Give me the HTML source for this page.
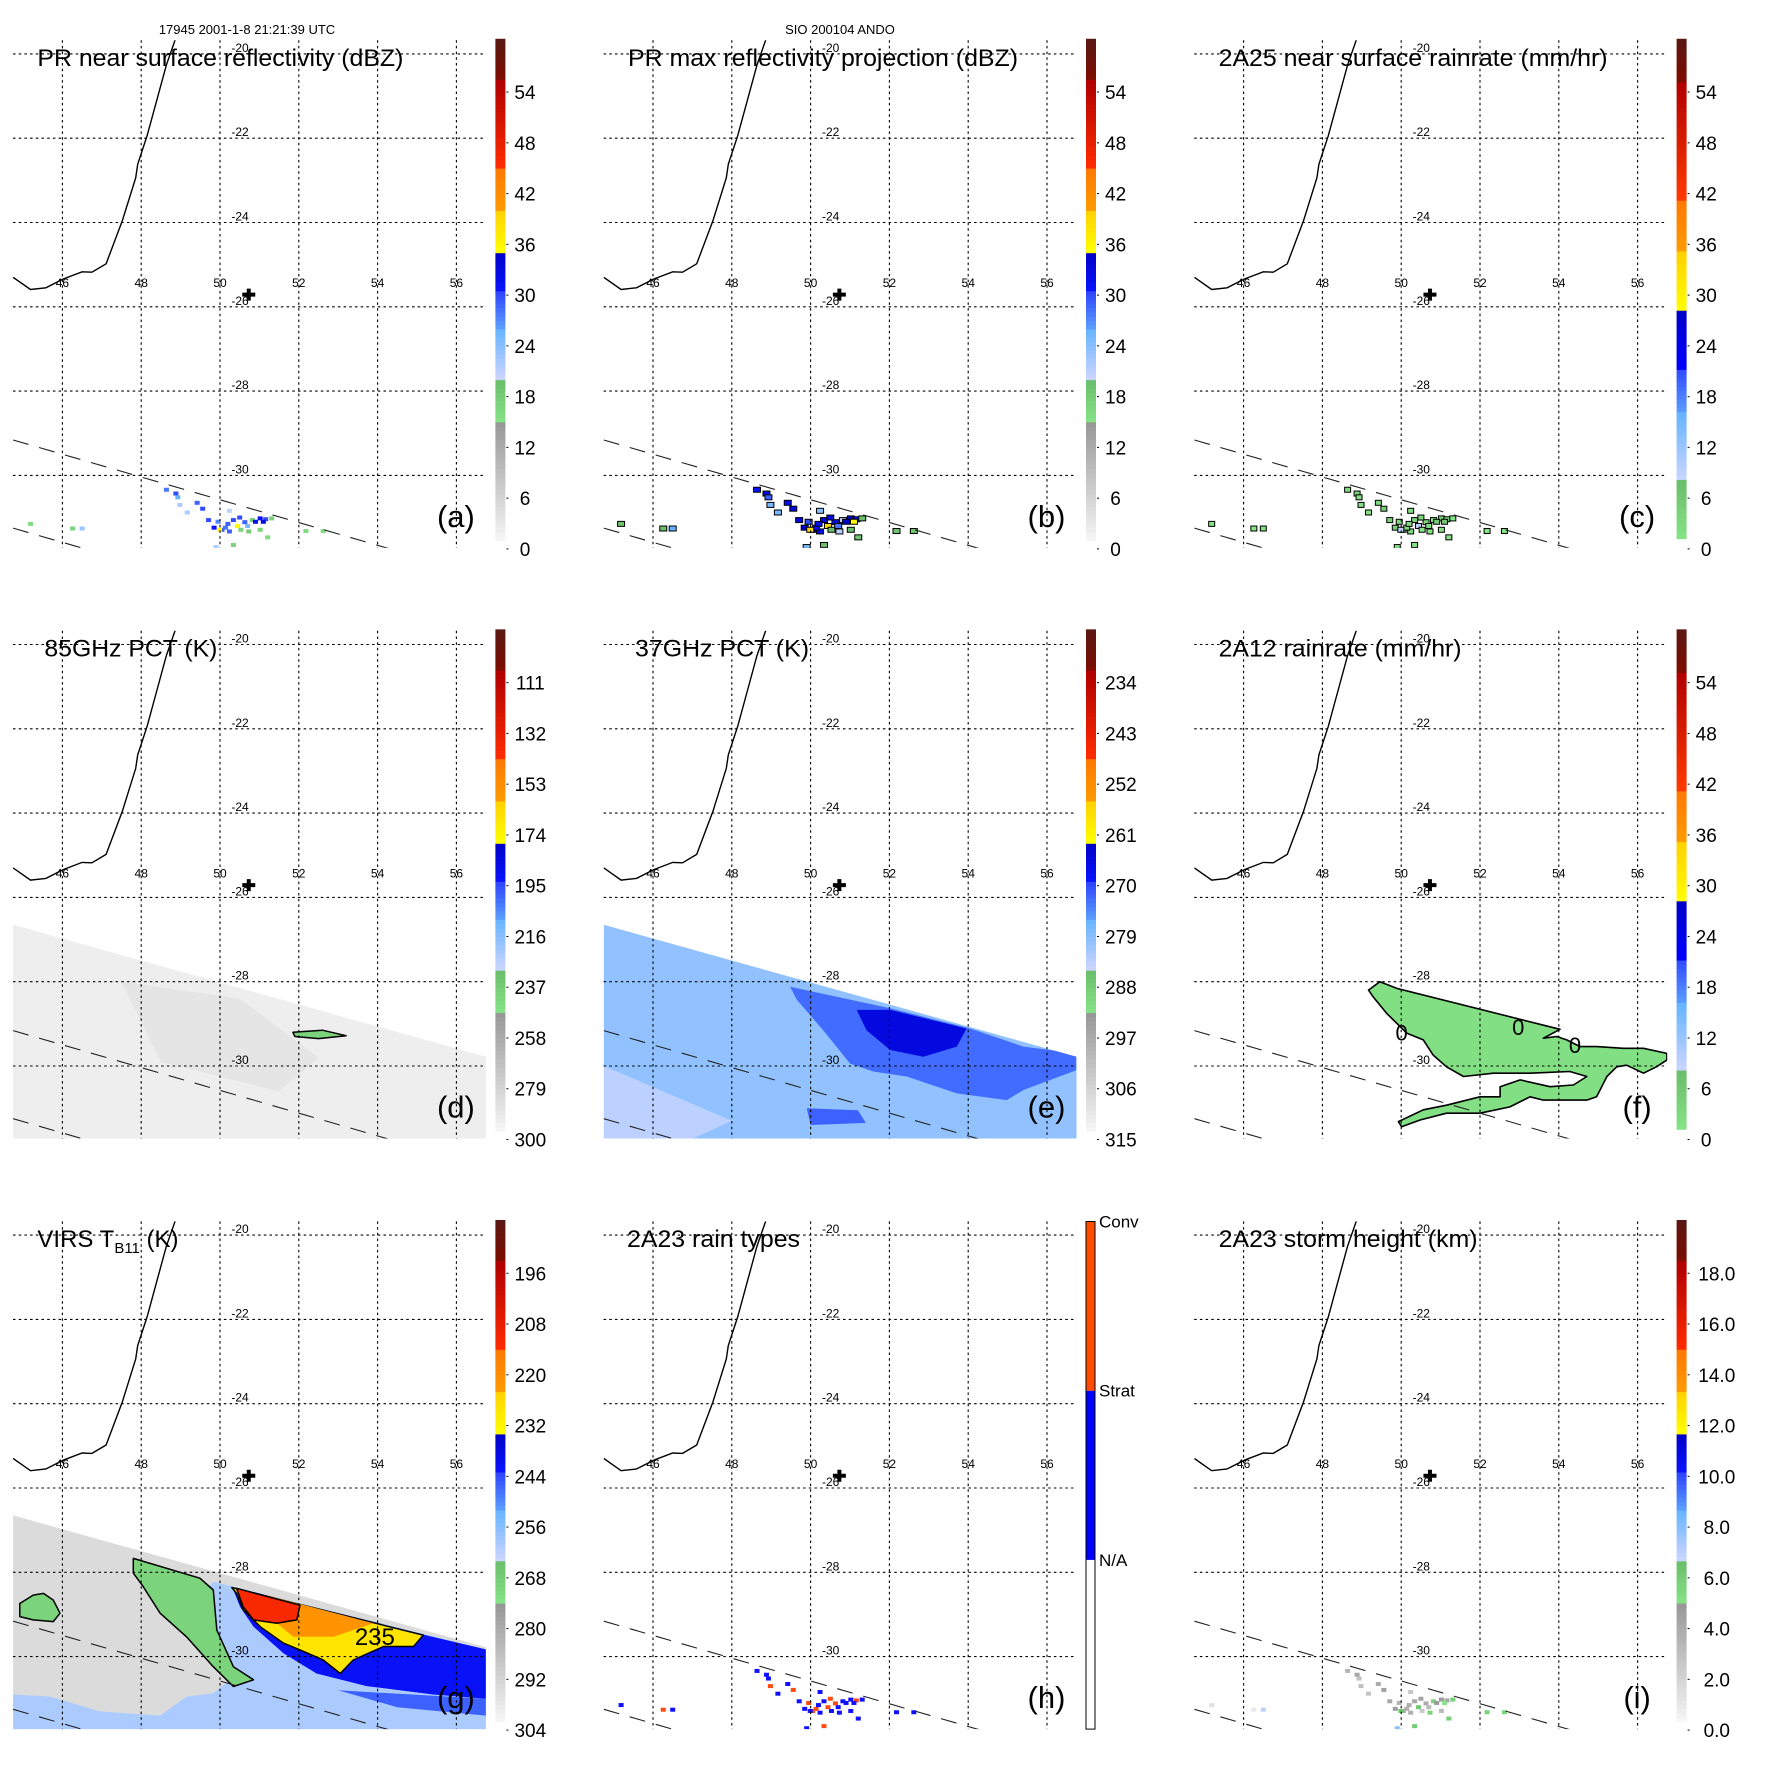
<!DOCTYPE html>
<html><head><meta charset="utf-8"><style>
html,body{margin:0;padding:0;background:#fff}
svg{display:block;font-family:"Liberation Sans",Arial,sans-serif}
</style></head><body>
<svg id="chart" width="1771" height="1771" viewBox="0 0 1771 1771" xmlns="http://www.w3.org/2000/svg">
<rect x="0" y="0" width="1771" height="1771" fill="#fff"/>
<text x="247" y="34" font-size="13" text-anchor="middle">17945 2001-1-8 21:21:39 UTC</text>
<text x="840" y="34" font-size="13" text-anchor="middle">SIO 200104 ANDO</text>
</svg>
<script>
// ---------- data ----------
const gridLons=[46,48,50,52,54,56];
const gridLats=[-20,-22,-24,-26,-28,-30];
const coastLon=[44.75,45.19,45.58,46.02,46.50,46.75,47.11,47.52,47.86,47.91,48.15,48.40,48.64,48.86];
const coastLat=[-25.30,-25.59,-25.55,-25.34,-25.17,-25.18,-24.98,-23.96,-22.94,-22.62,-21.94,-21.08,-20.26,-19.67];
const siteLon=50.73, siteLat=-25.71;
const scanLineLon=[44.75,56.75];
const scanLine1Lat=[-29.16,-32.40];
const scanLine2Lat=[-31.25,-34.49];
const swathLon=[44.75,56.75,56.75,44.75];
const swathLat=[-26.65,-29.78,-34,-34];
// rain cells (PR)
const rainLon=[48.64,48.88,48.93,49.42,49.56,49.71,49.85,50.05,50.24,50.34,50.44,50.63,50.82,51.02,51.16,51.31,50.14,49.99,50.53,50.73,51.02,51.21,50.34,49.9,45.19,46.26,46.5,52.18,52.62,49.17,48.98,50.24,50.5,50.9,50.2,49.95,51.1,50.7];
const rainLat=[-30.34,-30.43,-30.52,-30.65,-30.79,-31.06,-31.24,-31.29,-31.33,-31.06,-31.2,-31.11,-31.06,-31.02,-31.04,-31.02,-31.24,-31.29,-31.29,-31.33,-31.29,-31.47,-31.65,-31.7,-31.15,-31.26,-31.26,-31.32,-31.32,-30.88,-30.7,-30.84,-31.0,-31.1,-31.15,-31.1,-31.1,-31.2];
const rainDbz=[28,30,26,29,30,30,31,30,29,30,36,29,18,31,30,17,28,36,17,18,17,16,17,22,16,17,23,16,16,22,22,21,30,32,29,27,33,25];
const rainRate=[3,4,2,3,5,4,5,4,3,4,9,3,1,5,4,1,3,9,1,1,1,1,1,2,1,1,2,1,1,2,2,2,4,6,3,3,6,2];
const rainType=[1,1,1,1,2,1,1,2,1,1,2,2,1,1,2,1,2,1,1,1,1,1,2,1,1,2,1,1,1,1,2,1,2,1,1,2,1,1];
const rainHeight=[3.5,4.2,3.0,4.0,4.5,4.1,4.6,4.4,3.8,4.2,6.2,3.9,5.6,4.7,4.3,5.8,3.7,6.1,2.5,5.7,3.2,5.9,6.0,8.0,1.5,1.0,7.0,5.8,5.6,2.8,3.0,2.6,4.4,4.8,3.9,3.6,5.0,3.3];
// 2A12 rain region (f)
const fRainLon=[49.17,49.46,49.89,54.03,53.61,53.95,54.2,54.54,54.96,55.64,56.15,56.74,56.74,56.48,56.15,55.72,55.47,55.22,54.96,54.71,53.61,53.27,52.76,52.0,51.15,50.48,50.01,49.93,50.56,51.15,52.0,52.51,52.51,53.02,53.78,54.37,54.71,54.28,53.27,52.34,51.58,51.15,50.81,50.56,50.14,49.63,49.29];
const fRainLat=[-28.2,-28.0,-28.16,-29.13,-29.34,-29.3,-29.38,-29.54,-29.54,-29.58,-29.58,-29.7,-29.86,-30.02,-30.17,-29.98,-30.02,-30.25,-30.73,-30.81,-30.81,-30.73,-30.97,-31.12,-31.12,-31.28,-31.44,-31.32,-31.04,-30.93,-30.73,-30.73,-30.49,-30.33,-30.49,-30.45,-30.25,-30.13,-30.17,-30.17,-30.25,-30.02,-29.74,-29.38,-29.22,-28.75,-28.36];
const fRainValue=2;
const fZeroLon=[50.01,52.97,54.41];
const fZeroLat=[-29.2,-29.07,-29.5];
// 85 GHz (d) regions
const dBaseValue=2.3;
const dRegionValues=[3.6,17];
const dRegionLons=[[47.5,50.5,52.5,51.5,48.5],[51.85,52.6,53.2,52.5,51.9]];
const dRegionLats=[[-28.0,-28.4,-29.8,-30.6,-29.9],[-29.2,-29.15,-29.28,-29.35,-29.3]];
// 37 GHz (e) regions
const eBaseValue=23.5;
const eRegionValues=[21,28.5,33,29];
const eRegionLons=[[44.75,48,47,44.75],[49.48,52.02,54.05,55.4,56.74,56.74,55.4,54.98,53.71,52.44,51.59,51.0,50.32,49.65],[51.17,52.02,53.96,53.71,52.86,52.02,51.42],[49.9,51.2,51.4,50.0]];
const eRegionLats=[[-30.0,-31.3,-31.73,-31.73],[-28.12,-28.63,-29.11,-29.54,-29.7,-30.1,-30.57,-30.81,-30.65,-30.25,-30.13,-29.94,-29.15,-28.43],[-28.67,-28.67,-29.11,-29.54,-29.78,-29.62,-29.15],[-31.0,-31.05,-31.35,-31.4]];
// VIRS (g) regions
const gBaseValue=5;
const gRegionValues=[22,17,17,31,29,38,41,46];
const gRegionLons=[
 [49.83,56.75,56.75,44.75,44.75,45.69,46.95,48.48,49.15,49.83,50.34,49.92,49.66],
 [47.8,49.49,49.83,49.92,50.34,50.85,50.34,49.83,49.15,48.48,48.05,47.8],
 [44.92,45.26,45.52,45.77,45.94,45.77,45.26,44.92],
 [50.34,56.75,56.75,55.41,53.72,52.45,51.61,50.85,50.51],
 [53.0,56.75,56.75,54.5],
 [50.3,55.16,54.91,54.15,53.38,53.05,52.62,52.03,51.61,51.02,50.59,50.42],
 [51.18,53.89,52.88,51.86,51.35,50.85],
 [50.42,52.03,51.95,51.44,50.85,50.59]];
const gRegionLats=[
 [-28.22,-29.83,-31.73,-31.73,-30.9,-30.95,-31.3,-31.4,-30.95,-30.87,-30.48,-29.37,-28.42],
 [-27.67,-28.14,-28.42,-29.37,-30.24,-30.55,-30.71,-30.24,-29.53,-28.97,-28.34,-28.02],
 [-28.74,-28.54,-28.5,-28.66,-28.97,-29.17,-29.13,-29.05],
 [-28.42,-29.83,-31.0,-30.9,-30.7,-30.4,-29.92,-29.29,-28.82],
 [-30.8,-31.0,-31.4,-31.2],
 [-28.36,-29.49,-29.76,-29.76,-30.08,-30.4,-30.08,-29.84,-29.68,-29.29,-28.89,-28.5],
 [-28.54,-29.21,-29.53,-29.53,-29.13,-28.82],
 [-28.38,-28.78,-29.13,-29.21,-29.13,-28.82]];
const gOutlined=[false,true,true,false,false,true,false,true];
const gContourLabelLon=53.93, gContourLabelLat=-29.72;
// colour-bar tick labels
const tickValues=[0,6,12,18,24,30,36,42,48,54];
const labelsA=['0','6','12','18','24','30','36','42','48','54'];
const labelsD=['300','279','258','237','216','195','174','153','132','111'];
const labelsE=['315','306','297','288','279','270','261','252','243','234'];
const labelsG=['304','292','280','268','256','244','232','220','208','196'];
const labelsI=['0.0','2.0','4.0','6.0','8.0','10.0','12.0','14.0','16.0','18.0'];
const typeLabels=['N/A','Strat','Conv'];

// ---------- colour schemes ----------
const schemeA=[[1,15,'#f7f7f7','#969696'],[15,20.1,'#86e386','#6abd6a'],[20.1,26.2,'#ccd6ff','#62b2ff'],[26.2,30.3,'#5a9cff','#2e46ff'],[30.3,35.1,'#0a14ff','#0000c8'],[35.1,40.1,'#ffff00','#ffd000'],[40.1,45.1,'#ff9a00','#ff7800'],[45.1,55.3,'#ff2c00','#b00000'],[55.3,60.3,'#7e0c00','#5a1812']];
const schemeC=[[1.2,8.1,'#86e386','#6abd6a'],[8.1,16.3,'#ccd6ff','#62b2ff'],[16.3,21.4,'#5a9cff','#2e46ff'],[21.4,28.1,'#0000ff','#0000c8'],[28.1,35.2,'#ffff00','#ffd000'],[35.2,41.3,'#ff9a00','#ff7800'],[41.3,55.2,'#ff3a00','#b00000'],[55.2,60.3,'#7e0c00','#5a1812']];
function hex2rgb(h){return [parseInt(h.substr(1,2),16),parseInt(h.substr(3,2),16),parseInt(h.substr(5,2),16)];}
function colorOf(s,v){
  let seg=s[0];
  for(const g of s){ if(v>=g[0]) seg=g; }
  let t=(v-seg[0])/(seg[1]-seg[0]); t=Math.max(0,Math.min(1,t));
  const a=hex2rgb(seg[2]), b=hex2rgb(seg[3]);
  return 'rgb('+a.map((x,i)=>Math.round(x+(b[i]-x)*t)).join(',')+')';
}

// ---------- helpers ----------
const NS='http://www.w3.org/2000/svg';
const svg=document.getElementById('chart');
function mk(tag,attrs,parent){const e=document.createElementNS(NS,tag);for(const k in attrs)e.setAttribute(k,attrs[k]);(parent||svg).appendChild(e);return e;}
const PITCH=590.6, OX0=62.4, OY0=53.9, DX=39.4, DY=42.15;
const MAP_L=-49.4, MAP_R=423.6, MAP_T=-13.7, MAP_B=494;

const panels=[
 {c:0,r:0,key:'a',title:'PR near surface reflectivity (dBZ)',tw:366,tx:-25,scheme:schemeA,labels:labelsA},
 {c:1,r:0,key:'b',title:'PR max reflectivity projection (dBZ)',tw:390,tx:-25,scheme:schemeA,labels:labelsA},
 {c:2,r:0,key:'c',title:'2A25 near surface rainrate (mm/hr)',tw:389,tx:-25,scheme:schemeC,labels:labelsA},
 {c:0,r:1,key:'d',title:'85GHz PCT (K)',tw:173,tx:-18,scheme:schemeA,labels:labelsD},
 {c:1,r:1,key:'e',title:'37GHz PCT (K)',tw:174,tx:-18,scheme:schemeA,labels:labelsE},
 {c:2,r:1,key:'f',title:'2A12 rainrate (mm/hr)',tw:243,tx:-25,scheme:schemeC,labels:labelsA},
 {c:0,r:2,key:'g',title:'VIRS',tw:0,tx:-25,scheme:schemeA,labels:labelsG},
 {c:1,r:2,key:'h',title:'2A23 rain types',tw:173,tx:-26,scheme:null,labels:null},
 {c:2,r:2,key:'i',title:'2A23 storm height (km)',tw:259,tx:-25,scheme:schemeA,labels:labelsI}
];

panels.forEach(p=>{
  const ox=OX0+p.c*PITCH, oy=OY0+p.r*PITCH;
  const X=lon=>ox+(lon-46)*DX;
  const Y=lat=>oy+(-20-lat)*DY;
  const pts=(lons,lats)=>lons.map((l,i)=>X(l).toFixed(1)+','+Y(lats[i]).toFixed(1)).join(' ');
  const g=mk('g',{});
  
  
  const cp=mk('clipPath',{id:'clip-'+p.key},g);
  mk('rect',{x:ox+MAP_L,y:oy+MAP_T,width:MAP_R-MAP_L,height:MAP_B-MAP_T},cp);
  const map=mk('g',{'clip-path':'url(#clip-'+p.key+')'},g);
  
  

  function swath(base,vals,lons,lats,outl){
    const s=mk('polygon',{points:pts(swathLon,swathLat),fill:colorOf(p.scheme,base)},map);
    
    
    const sc=mk('g',{},map);
    const cpid='swclip-'+p.key;
    const cp2=mk('clipPath',{id:cpid},g);
    mk('polygon',{points:pts(swathLon,swathLat)},cp2);
    sc.setAttribute('clip-path','url(#'+cpid+')');
    vals.forEach((v,i)=>{
      const r=mk('polygon',{points:pts(lons[i],lats[i]),fill:colorOf(p.scheme,v),stroke:(outl&&outl[i])?'#000':'none','stroke-width':1.5,'stroke-linejoin':'round'},sc);
      
      
    });
  }
  if(p.key==='d') swath(dBaseValue,dRegionValues,dRegionLons,dRegionLats,[false,true]);
  if(p.key==='e') swath(eBaseValue,eRegionValues,eRegionLons,eRegionLats,null);
  if(p.key==='g'){
    swath(gBaseValue,gRegionValues,gRegionLons,gRegionLats,gOutlined);
    const t=mk('text',{x:X(gContourLabelLon),y:Y(gContourLabelLat),'font-size':24,'text-anchor':'middle'},map);
    t.textContent='235';
    
    
  }
  if(p.key==='f'){
    const r=mk('polygon',{points:pts(fRainLon,fRainLat),fill:colorOf(p.scheme,fRainValue),stroke:'#000','stroke-width':1.6,'stroke-linejoin':'round'},map);
    
    
    fZeroLon.forEach((l,i)=>{
      const t=mk('text',{x:X(l),y:Y(fZeroLat[i])+8,'font-size':22,'text-anchor':'middle'},map);
      t.textContent='0';
      
      
    });
  }
  if('abchi'.includes(p.key)){
    rainLon.forEach((l,i)=>{
      let col, w=5, h=4, outline=false;
      if(p.key==='a') col=colorOf(p.scheme,rainDbz[i]);
      if(p.key==='b'){col=colorOf(p.scheme,rainDbz[i]+3); w=6; h=4; outline=true;}
      if(p.key==='c'){col=colorOf(p.scheme,rainRate[i]); w=5; h=4; outline=true;}
      if(p.key==='h') col=rainType[i]===2?'#ff4a10':'#1010ff';
      if(p.key==='i') col=colorOf(p.scheme,rainHeight[i]*3);
      if(outline){
        const o=mk('rect',{x:X(l)-w/2-1,y:Y(rainLat[i])-h/2-1,width:w+2,height:h+2,fill:'#000'},map);
        
        
      }
      const r=mk('rect',{x:X(l)-w/2,y:Y(rainLat[i])-h/2,width:w,height:h,fill:col},map);
      
      
    });
  }
  gridLons.forEach(l=>{
    const ln=mk('line',{x1:X(l),x2:X(l),y1:oy+MAP_T,y2:oy+MAP_B,stroke:'#000','stroke-width':1.1,'stroke-dasharray':'2.5,3.2'},g);
    
    
    const t=mk('text',{x:X(l),y:oy+233,'font-size':12,'text-anchor':'middle'},g);
    t.textContent=String(l);
    
    
  });
  gridLats.forEach(l=>{
    const ln=mk('line',{x1:ox+MAP_L,x2:ox+MAP_R,y1:Y(l),y2:Y(l),stroke:'#000','stroke-width':1.1,'stroke-dasharray':'2.5,3.2'},g);
    
    
    const t=mk('text',{x:ox+169,y:Y(l)-2,'font-size':12},g);
    t.textContent=String(l);
    
    
  });
  const coast=mk('polyline',{points:pts(coastLon,coastLat),fill:'none',stroke:'#000','stroke-width':1.4},map);
  
  
  [scanLine1Lat,scanLine2Lat].forEach(la=>{
    const d=mk('polyline',{points:pts(scanLineLon,la),fill:'none',stroke:'#222','stroke-width':1.1,'stroke-dasharray':'16,11'},map);
    
    
  });
  const cx=X(siteLon), cy=Y(siteLat);
  const cr=mk('path',{d:`M${cx-6.5},${cy-2}h13v4h-13zM${cx-2},${cy-6}h4v12h-4z`,fill:'#000'},g);
  
  
  const tt=mk('text',{x:ox+p.tx,y:oy+12,'font-size':24},g);
  if(p.key==='g'){
    tt.innerHTML='VIRS T<tspan font-size="15" dy="6">B11</tspan><tspan dy="-6"> (K)</tspan>';
  } else {
    tt.textContent=p.title;
    tt.setAttribute('textLength',p.tw);
    tt.setAttribute('lengthAdjust','spacingAndGlyphs');
  }
  
  
  const lt=mk('text',{x:ox+393.5,y:oy+473,'font-size':31,'text-anchor':'middle'},g);
  lt.textContent='('+p.key+')';
  
  
  const cb=mk('g',{},g);
  
  
  const bx=ox+433, bw=10;
  const VY=v=>oy+495-8.46*v;
  if(p.scheme){
    const lo=p.scheme[0][0], hi=p.scheme[p.scheme.length-1][1];
    for(let v=lo; v<hi-0.01; v+=0.5){
      const v2=Math.min(hi,v+0.5);
      mk('rect',{x:bx,y:VY(v2),width:bw,height:VY(v)-VY(v2)+0.4,fill:colorOf(p.scheme,v+0.25)},cb);
    }
    const maxc=Math.max(...p.labels.map(s=>s.length));
    const lx=ox+452+maxc*5.3;
    tickValues.forEach((v,i)=>{
      mk('rect',{x:bx+bw+1,y:VY(v)-0.5,width:2,height:1,fill:'#000'},cb);
      const t=mk('text',{x:lx,y:VY(v)+7,'font-size':19,'text-anchor':'middle'},cb);
      t.textContent=p.labels[i];
      
      
    });
  } else {
    const top=oy-13.6, bot=oy+494, third=(bot-top)/3;
    const cols=['#ffffff','#0000ff','#ff4a00'];
    cols.forEach((c,i)=>{
      mk('rect',{x:bx,y:bot-(i+1)*third,width:bw-1,height:third,fill:c},cb);
    });
    mk('rect',{x:bx,y:top,width:bw-1,height:bot-top,fill:'none',stroke:'#000','stroke-width':1},cb);
    typeLabels.forEach((s,i)=>{
      const t=mk('text',{x:bx+13,y:bot-(i+1)*third+6,'font-size':17},cb);
      t.textContent=s;
      
      
    });
  }
});
</script>
</body></html>
